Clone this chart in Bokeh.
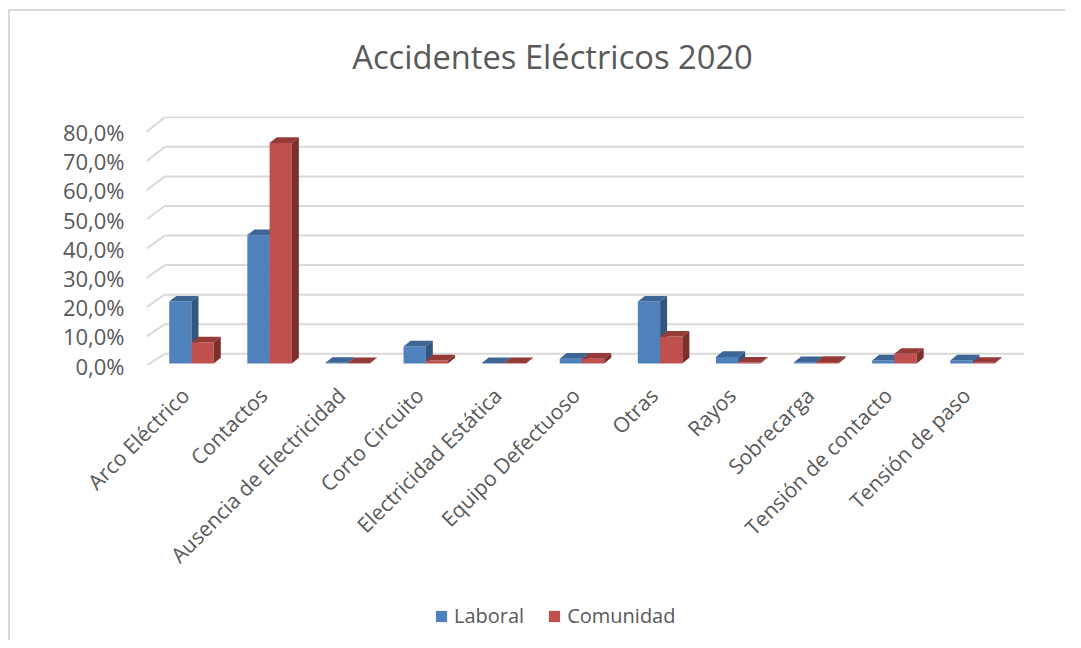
import math
from bokeh.plotting import figure
from bokeh.layouts import column
from bokeh.models import (FixedTicker, CustomJSTickFormatter, Legend, LegendItem, Range1d)
from bokeh.core.properties import value
from bokeh.embed import file_html
from bokeh.resources import INLINE

# ---------------- data ----------------
categories = ["Arco Eléctrico", "Contactos", "Ausencia de Electricidad", "Corto Circuito",
              "Electricidad Estática", "Equipo Defectuoso", "Otras", "Rayos",
              "Sobrecarga", "Tensión de contacto", "Tensión de paso"]
laboral = [21.2, 43.9, 0.2, 5.8, 0.1, 1.6, 21.2, 2.2, 0.4, 1.0, 1.0]
comunidad = [7.2, 75.5, 0.1, 1.0, 0.1, 1.6, 9.2, 0.3, 0.5, 3.3, 0.2]
y_ticks = [0, 10, 20, 30, 40, 50, 60, 70, 80]
series_names = ["Laboral", "Comunidad"]
title_text = "Accidentes Eléctricos 2020"

# ---------------- style / geometry ----------------
FONT = "Open Sans"
TXT = "#595959"
GRID = "#d9d9d9"
X0, X1 = -0.576, 10.666
Y_TOP = 85.3
WALL_DX, WALL_DY, WALL_K = 0.235, 4.0, 1.013
BW = 0.285
BASE = 0.7
DX, DY = 0.09, 1.95
LABEL_SHIFT = 0.08
colors = {
    "Laboral": ("#4f81bd", "#3d6596", "#34557e"),
    "Comunidad": ("#c0504d", "#963a38", "#7c2f2d"),
}
W = 1055
FRAME_W = 878          # frame width in px (page x 147..1025)
TH = 105               # title strip height
LH = 55                # legend strip height

# ---------------- title strip ----------------
p0 = figure(width=W, height=TH, x_range=Range1d(0, FRAME_W), y_range=Range1d(0, TH),
            output_backend="svg", toolbar_location=None,
            min_border_left=136, min_border_right=41, min_border_top=0, min_border_bottom=0)
p0.outline_line_color = None
p0.axis.visible = False
p0.grid.visible = False
p0.text(x=[406], y=[TH - 45], text=[title_text], text_align="center", text_baseline="middle",
        text_font=value(FONT), text_font_size="32.7px", text_color=TXT)

# ---------------- main chart ----------------
p = figure(width=W, height=469, x_range=Range1d(X0, X1), y_range=Range1d(0, Y_TOP),
           output_backend="svg", toolbar_location=None,
           min_border_left=136, min_border_right=41, min_border_top=0, min_border_bottom=220)
p.outline_line_color = None
p.xgrid.visible = False
p.ygrid.visible = False

# back-wall gridlines + floor stubs (3D look)
wx0 = [X0 + WALL_DX for _ in y_ticks]
wx1 = [X1 for _ in y_ticks]
wy = [WALL_DY + WALL_K * v for v in y_ticks]
p.segment(x0=wx0, y0=wy, x1=wx1, y1=wy, line_color=GRID, line_width=2)
p.segment(x0=[X0 for _ in y_ticks], y0=y_ticks, x1=wx0, y1=wy, line_color=GRID, line_width=2)

# bars
for name, vals, off in (("Laboral", laboral, -BW), ("Comunidad", comunidad, 0.0)):
    front, top_c, side_c = colors[name]
    xs = [i + off + BW / 2 for i in range(len(vals))]
    p.vbar(x=xs, width=BW, bottom=BASE, top=[BASE + v for v in vals],
           fill_color=front, line_color=None)
    tx, ty, sx, sy = [], [], [], []
    for i, v in enumerate(vals):
        xl = i + off
        xr = xl + BW
        b = BASE
        t = BASE + v
        tx.append([xl, xr, xr + DX, xl + DX])
        ty.append([t, t, t + DY, t + DY])
        sx.append([xr, xr + DX, xr + DX, xr])
        sy.append([b, b + DY, t + DY, t])
    p.patches(xs=tx, ys=ty, fill_color=top_c, line_color=None)
    p.patches(xs=sx, ys=sy, fill_color=side_c, line_color=None)

# axes
p.xaxis.ticker = FixedTicker(ticks=[i - LABEL_SHIFT for i in range(len(categories))])
p.xaxis.formatter = CustomJSTickFormatter(args=dict(labels=categories, shift=LABEL_SHIFT),
                                          code="return labels[Math.round(tick + shift)];")
p.xaxis.major_label_orientation = math.pi / 4
p.yaxis.ticker = FixedTicker(ticks=y_ticks)
p.yaxis.formatter = CustomJSTickFormatter(code="return tick.toFixed(1).replace('.', ',') + '%';")
for ax in (p.xaxis, p.yaxis):
    ax.axis_line_color = None
    ax.major_tick_line_color = None
    ax.minor_tick_line_color = None
    ax.major_tick_out = 0
    ax.major_tick_in = 0
    ax.major_label_text_font = FONT
    ax.major_label_text_color = TXT
p.xaxis.major_label_text_font_size = "21px"
p.yaxis.major_label_text_font_size = "22px"
p.yaxis.major_label_standoff = 22
p.xaxis.major_label_standoff = 26

# ---------------- legend strip ----------------
p2 = figure(width=W, height=LH, x_range=Range1d(0, 10), y_range=Range1d(0, 10),
            output_backend="svg", toolbar_location=None,
            min_border_left=0, min_border_right=0, min_border_top=0, min_border_bottom=0)
p2.outline_line_color = None
p2.axis.visible = False
p2.grid.visible = False
items = []
for name in series_names:
    r = p2.vbar(x=[-50], width=1, bottom=[-60], top=[-50], fill_color=colors[name][0], line_color=None)
    items.append(LegendItem(label=name, renderers=[r]))
legend = Legend(items=items, orientation="horizontal", location=(288, 11))
legend.label_text_font = FONT
legend.label_text_font_size = "20px"
legend.label_text_color = TXT
legend.glyph_width = 14
legend.glyph_height = 14
legend.label_standoff = 6
legend.spacing = 23
legend.border_line_color = None
legend.background_fill_alpha = 0
legend.margin = 0
legend.padding = 0
p2.add_layout(legend, "center")

layout = column(p0, p, p2, styles={"margin-left": "8px", "margin-top": "9px",
                                   "border-left": "2px solid #d9d9d9",
                                   "border-top": "2px solid #d9d9d9"})
open("out.html", "w").write(file_html(layout, INLINE))
